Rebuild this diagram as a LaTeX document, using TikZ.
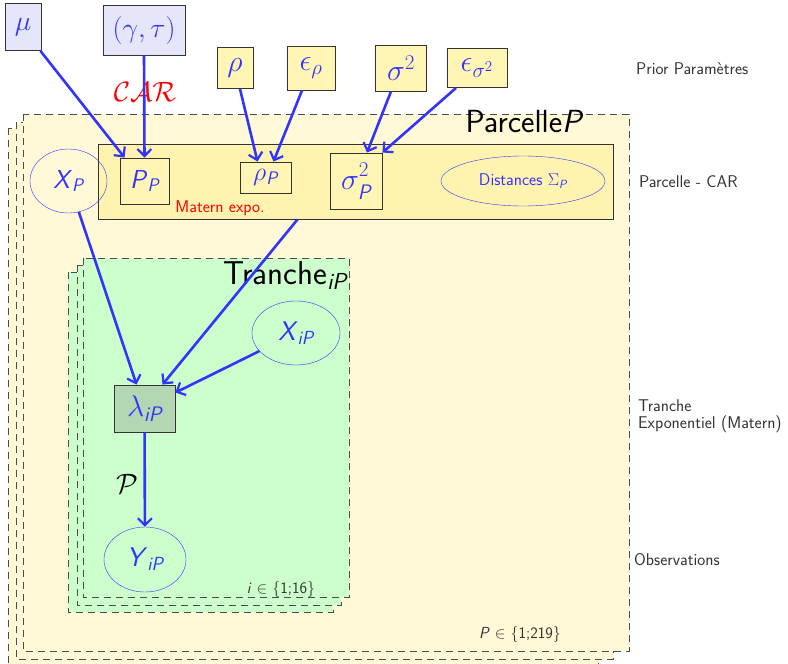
\RequirePackage{fix-cm}
\documentclass[tikz,border=0pt]{standalone}
\usepackage{amsmath}
\usepackage{fontspec}
\usetikzlibrary{arrows.meta,shapes.geometric}
\definecolor{myblue}{RGB}{51,51,255}
\definecolor{lav}{RGB}{230,230,250}
\definecolor{ylw}{RGB}{255,245,180}
\definecolor{carfill}{RGB}{255,243,176}
\definecolor{platey}{RGB}{255,249,215}
\definecolor{plateg}{RGB}{204,255,204}
\definecolor{lamfill}{RGB}{179,214,179}
\definecolor{txtgray}{RGB}{50,50,50}
\newcommand{\sv}[1]{\textsf{\itshape #1}}
\tikzset{
  vbox/.style={draw=black!80, line width=0.9pt, fill=lav, text=myblue, inner sep=0pt, font=\fontsize{28}{32}\selectfont},
  ybox/.style={draw=black!80, line width=0.9pt, fill=ylw, text=myblue, inner sep=0pt, font=\fontsize{30}{34}\selectfont},
  carbox/.style={draw=black!80, line width=0.9pt, fill=carfill, inner sep=0pt},
  ell/.style={ellipse, draw=myblue, text=myblue, inner sep=0pt, font=\fontsize{27}{31}\selectfont},
  lat/.style={font=\fontsize{26}{30}\selectfont},
  edge/.style={draw=myblue, line width=2.6pt, -{Straight Barb[length=7pt,width=14pt,line width=2.2pt]}},
  plate/.style={draw=black!70, line width=1pt, dash pattern=on 7pt off 5pt},
  sidelab/.style={text=txtgray, font=\sffamily\fontsize{17}{17}\selectfont, anchor=west, inner sep=0pt},
}
\begin{document}
\begin{tikzpicture}[x=1pt,y=-1pt]
\useasboundingbox (0,0) rectangle (788,664);
% outer plates (Parcelle)
\draw[plate, fill=platey] (8,128) rectangle (598,668);
\draw[plate, fill=platey] (16,122) rectangle (613,659);
\draw[plate, fill=platey] (23,114) rectangle (629,651);
\node[anchor=east, inner sep=0pt, font=\sffamily\fontsize{32}{36}\selectfont] (parclab) at (584,122) {Parcelle\sv{P}};
\node[inner sep=0pt, text=txtgray, font=\sffamily\fontsize{16}{18}\selectfont] (plab) at (520,634) {\sv{P} $\in$ \textbraceleft1;219\textbraceright};
% CAR box
\node[carbox, minimum width=515pt, minimum height=75pt] (car) at (355.5,181.5) {};
% inner plates (Tranche)
\draw[plate, fill=plateg] (68,272) rectangle (333,612);
\draw[plate, fill=plateg] (77,265) rectangle (341,605);
\draw[plate, fill=plateg] (83,258) rectangle (349,597);
\node[anchor=east, inner sep=0pt, font=\sffamily\fontsize{33}{37}\selectfont] (tranlab) at (347,276) {Tranche$_{\sv{iP}}$};
\node[inner sep=0pt, text=txtgray, font=\sffamily\fontsize{16}{18}\selectfont] (ilab) at (281,589) {\sv{i} $\in$ \textbraceleft1;16\textbraceright};
% prior nodes
\node[vbox, minimum width=36pt, minimum height=47pt] (mu) at (23,27) {$\mu$};
\node[vbox, minimum width=82pt, minimum height=50pt] (gt) at (144,30) {$(\gamma,\tau)$};
\node[ybox, minimum width=36pt, minimum height=41pt] (rho) at (235,68) {$\rho$};
\node[ybox, minimum width=48pt, minimum height=44pt] (erho) at (311,68) {$\epsilon_{\rho}$};
\node[ybox, minimum width=51pt, minimum height=46pt] (s2) at (401,68) {$\sigma^{2}$};
\node[ybox, minimum width=60pt, minimum height=39pt] (es2) at (477,68) {$\epsilon_{\sigma^{2}}$};
\node[text=red, inner sep=0pt, font=\fontsize{28}{32}\selectfont] (carlab) at (145,92) {$\mathcal{CAR}$};
% parcel level
\node[ybox, lat, minimum width=49pt, minimum height=46pt] (PP) at (144.5,181) {\sv{P}$_{\sv{P}}$};
\node[ybox, lat, minimum width=51pt, minimum height=31pt] (rhoP) at (265.5,177.5) {$\rho_{\sv{P}}$};
\node[ybox, minimum width=52pt, minimum height=56pt] (s2P) at (356,181) {$\sigma^{\raise2pt\hbox{$\scriptstyle 2$}}_{\lower3pt\hbox{$\scriptstyle\sv{P}$}}$};
\node[ell, lat, minimum width=77pt, minimum height=64pt] (XP) at (68.5,181) {\sv{X}$_{\sv{P}}$};
\node[ell, minimum width=164pt, minimum height=50pt, font=\sffamily\fontsize{17}{19}\selectfont] (dist) at (523,181) {Distances $\Sigma_{\sv{P}}$};
\node[text=red, inner sep=0pt, font=\sffamily\fontsize{17}{19}\selectfont] (matlab) at (220,208) {Matern expo.};
% tranche level
\node[ell, minimum width=88pt, minimum height=64pt] (XiP) at (296,333) {\sv{X}$_{\sv{iP}}$};
\node[ybox, fill=lamfill, minimum width=61pt, minimum height=47pt] (lam) at (144.5,408.5) {$\lambda_{\sv{iP}}$};
\node[ell, minimum width=82pt, minimum height=65pt] (YiP) at (145,559.5) {\sv{Y}$_{\sv{iP}}$};
\node[inner sep=0pt, font=\fontsize{28}{32}\selectfont] (poislab) at (127,484) {$\mathcal{P}$};
% edges
\draw[edge] ([xshift=-1pt]mu.south east) -- ([xshift=5pt]PP.north west);
\draw[edge] (gt.south) -- (PP.north);
\draw[edge] ([xshift=5pt]rho.south) -- ([xshift=-8pt]rhoP.north);
\draw[edge] ([xshift=-9pt]erho.south) -- ([xshift=8pt]rhoP.north);
\draw[edge] ([xshift=-10pt]s2.south) -- ([xshift=11pt]s2P.north);
\draw[edge] ([xshift=-21pt]es2.south) -- (s2P.north east);
\draw[edge] (XP) -- ([xshift=-8pt]lam.north);
\draw[edge] ([xshift=-58pt]car.south) -- ([xshift=18pt]lam.north);
\draw[edge] (XiP) -- ([yshift=-8pt]lam.north east);
\draw[edge] (lam) -- (YiP);
% side labels
\node[sidelab] (l1) at (636,69) {Prior Paramètres};
\node[sidelab] (l2) at (639,182) {Parcelle - CAR};
\node[sidelab, align=left] (l3) at (638,416) {Tranche\\Exponentiel (Matern)};
\node[sidelab] (l4) at (634,560) {Observations};
\end{tikzpicture}
\end{document}
